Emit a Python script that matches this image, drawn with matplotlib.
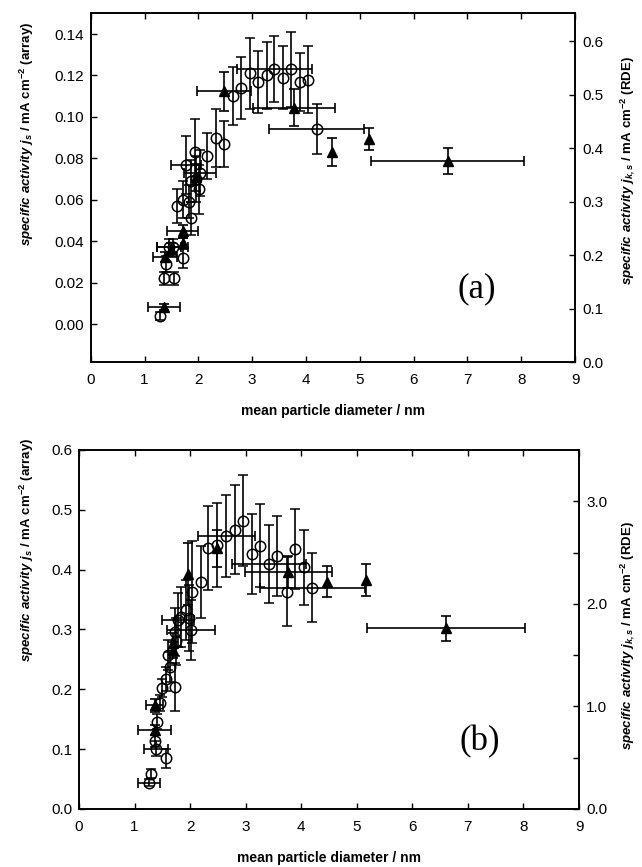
import numpy as np
import matplotlib
matplotlib.use('Agg')
import matplotlib.pyplot as plt

plt.rcParams['font.family'] = 'Liberation Sans'
plt.rcParams['mathtext.fontset'] = 'custom'
plt.rcParams['mathtext.rm'] = 'Liberation Sans'
plt.rcParams['mathtext.it'] = 'Liberation Sans:italic'
plt.rcParams['mathtext.bf'] = 'Liberation Sans:bold'
plt.rcParams['mathtext.bfit'] = 'Liberation Sans:italic:bold'

# ---- panel (a) : array (circles, left axis) ----
a_arr_x = [1.29, 1.36, 1.55, 1.40, 1.71, 1.46, 1.52, 1.86, 1.61, 1.71, 1.83, 1.86, 2.02, 1.96, 2.03, 1.77,
           1.93, 2.17, 2.33, 2.48, 2.65, 2.79, 2.96, 3.11, 3.27, 3.41, 3.57, 3.73, 3.88, 4.04, 4.20]
a_arr_y = [0.004, 0.022, 0.022, 0.029, 0.032, 0.037, 0.037, 0.051, 0.057, 0.060, 0.059, 0.069, 0.065, 0.070,
           0.073, 0.077, 0.083, 0.081, 0.090, 0.087, 0.110, 0.114, 0.121, 0.117, 0.120, 0.123, 0.119, 0.123,
           0.117, 0.118, 0.094]
a_arr_yerr = [0.002, 0.003, 0.003, 0.004, 0.005, 0.004, 0.004, 0.008, 0.008, 0.009, 0.008, 0.010, 0.012, 0.011,
              0.011, 0.014, 0.016, 0.011, 0.014, 0.011, 0.014, 0.015, 0.017, 0.015, 0.016, 0.016, 0.015, 0.018,
              0.014, 0.016, 0.012]
a_arr_xerr = [0, 0, 0, 0, 0, 0.22, 0.28, 0, 0, 0, 0, 0, 0, 0, 0.30, 0.28,
              0, 0, 0, 0, 0, 0, 0, 0, 0, 0.70, 0, 0, 0, 0, 0.88]

# ---- panel (a) : RDE (triangles, right axis) ----
a_rde_x = [1.36, 1.38, 1.50, 1.71, 1.71, 1.95, 2.48, 3.78, 4.48, 5.17, 6.63]
a_rde_y = [0.103, 0.197, 0.212, 0.222, 0.245, 0.346, 0.506, 0.476, 0.393, 0.417, 0.376]
a_rde_yerr = [0.006, 0.010, 0.010, 0.010, 0.012, 0.025, 0.036, 0.034, 0.027, 0.020, 0.025]
a_rde_xerr = [0.29, 0.22, 0, 0, 0.29, 0, 0.50, 0.76, 0, 0, 1.42]

# ---- panel (b) : array ----
b_arr_x = [1.26, 1.30, 1.56, 1.39, 1.36, 1.41, 1.45, 1.72, 1.50, 1.56, 1.63, 1.60, 1.74, 1.72, 1.78, 1.84, 1.93,
           2.02, 1.98, 2.04, 2.19, 2.33, 2.49, 2.65, 2.80, 2.96, 3.11, 3.26, 3.42, 3.57, 3.74, 3.89, 4.05, 4.20]
b_arr_y = [0.044, 0.059, 0.085, 0.101, 0.114, 0.146, 0.177, 0.204, 0.202, 0.218, 0.238, 0.257, 0.280, 0.296,
           0.316, 0.321, 0.333, 0.299, 0.319, 0.363, 0.379, 0.436, 0.441, 0.456, 0.467, 0.482, 0.426, 0.440,
           0.409, 0.423, 0.363, 0.434, 0.404, 0.370]
b_arr_yerr = [0.006, 0.008, 0.016, 0.012, 0.010, 0.012, 0.014, 0.040, 0.015, 0.020, 0.025, 0.025, 0.040, 0.040,
              0.045, 0.050, 0.050, 0.050, 0.055, 0.085, 0.060, 0.070, 0.070, 0.068, 0.074, 0.076, 0.067, 0.069,
              0.065, 0.067, 0.058, 0.067, 0.063, 0.058]
b_arr_xerr = [0.19, 0, 0, 0.22, 0, 0, 0, 0, 0, 0, 0, 0, 0, 0, 0.29, 0, 0,
              0.43, 0, 0, 0, 0, 0, 0.51, 0, 0, 0, 0, 0.66, 0, 0, 0, 0, 0.94]

# ---- panel (b) : RDE ----
b_rde_x = [1.36, 1.36, 1.69, 1.70, 1.96, 2.49, 3.77, 4.46, 5.17, 6.61]
b_rde_y = [0.77, 1.01, 1.55, 1.615, 2.29, 2.54, 2.31, 2.215, 2.23, 1.76]
b_rde_yerr = [0.05, 0.06, 0.08, 0.10, 0.30, 0.18, 0.16, 0.15, 0.155, 0.12]
b_rde_xerr = [0.30, 0.15, 0, 0, 0, 0, 0.78, 0, 0, 1.42]

lab_left = r'$\mathbfit{specific\ activity\ j}_{\mathbfit{s}}\mathbf{\ /\ mA\ cm^{-2}\ (array)}$'
lab_right = r'$\mathbfit{specific\ activity\ j}_{\mathbfit{k,s}}\mathbf{\ /\ mA\ cm^{-2}\ (RDE)}$'
lab_x = 'mean particle diameter / nm'

eb = dict(ecolor='k', elinewidth=1.2, capsize=3.5, capthick=1.2)


def draw(ax, x, y, yerr, xerr, marker):
    x = np.array(x)
    y = np.array(y)
    xerr = np.array(xerr)
    if marker == 'o':
        ax.errorbar(x, y, yerr=yerr, fmt='o', ms=7.5, mfc='none', mec='k', mew=1.1, zorder=3, **eb)
    else:
        ax.errorbar(x, y, yerr=yerr, fmt='^', ms=7, mfc='k', mec='k', zorder=4, **eb)
    m = xerr > 0
    ax.errorbar(x[m], y[m], xerr=xerr[m], fmt='none', zorder=3, **eb)


fig = plt.figure(figsize=(6.42, 8.67), dpi=100)

panels = [
    dict(pos=[0.1413, 0.5821, 0.7544, 0.4025], ylim=(-0.0185, 0.150), yticks=np.arange(0, 0.141, 0.02), yfmt='%.2f',
         ylim2=(0, 0.652), yticks2=np.arange(0, 0.61, 0.1), yfmt2='%.1f', minor2=None,
         arr=(a_arr_x, a_arr_y, a_arr_yerr, a_arr_xerr), rde=(a_rde_x, a_rde_y, a_rde_yerr, a_rde_xerr),
         tag='(a)', tagpos=(0.797, 0.212), ly=0.654, ry=0.551, lx=-0.113, rx=1.088),
    dict(pos=[0.1231, 0.0669, 0.7788, 0.4141], ylim=(0, 0.6), yticks=np.arange(0, 0.61, 0.1), yfmt='%.1f',
         ylim2=(0, 3.5), yticks2=np.arange(0, 3.1, 1.0), yfmt2='%.1f', minor2=np.arange(0.5, 3.1, 1.0),
         arr=(b_arr_x, b_arr_y, b_arr_yerr, b_arr_xerr), rde=(b_rde_x, b_rde_y, b_rde_yerr, b_rde_xerr),
         tag='(b)', tagpos=(0.802, 0.187), ly=0.721, ry=0.482, lx=-0.086, rx=1.078),
]

for p in panels:
    ax = fig.add_axes(p['pos'])
    ax2 = ax.twinx()
    draw(ax, *p['arr'], 'o')
    draw(ax2, *p['rde'], '^')

    ax.set_xlim(0, 9)
    ax.set_xticks(range(10))
    ax.set_ylim(*p['ylim'])
    ax.set_yticks(p['yticks'])
    ax.yaxis.set_major_formatter(matplotlib.ticker.FormatStrFormatter(p['yfmt']))
    ax2.set_ylim(*p['ylim2'])
    ax2.set_yticks(p['yticks2'])
    ax2.yaxis.set_major_formatter(matplotlib.ticker.FormatStrFormatter(p['yfmt2']))
    if p['minor2'] is not None:
        ax2.set_yticks(p['minor2'], minor=True)

    ax.tick_params(direction='in', top=True, length=4, width=1, labelsize=11)
    ax.tick_params(axis='x', pad=8)
    ax.tick_params(axis='y', pad=5)
    ax2.tick_params(direction='in', length=4, width=1, labelsize=11, pad=5)
    ax2.tick_params(which='minor', direction='in', length=4, width=1)
    for a in (ax, ax2):
        for s in a.spines.values():
            s.set_linewidth(1.2)

    ax.set_xlabel(lab_x, fontsize=10, fontweight='bold', labelpad=12)
    ax.set_ylabel(lab_left, fontsize=9.5)
    ax.yaxis.set_label_coords(p['lx'], p['ly'])
    ax2.set_ylabel(lab_right, fontsize=9.5)
    ax2.yaxis.set_label_coords(p['rx'], p['ry'])

    ax.text(p['tagpos'][0], p['tagpos'][1], p['tag'], transform=ax.transAxes, fontsize=25,
            family='Liberation Serif', ha='center', va='center')

fig.savefig('out.png', dpi=100)
